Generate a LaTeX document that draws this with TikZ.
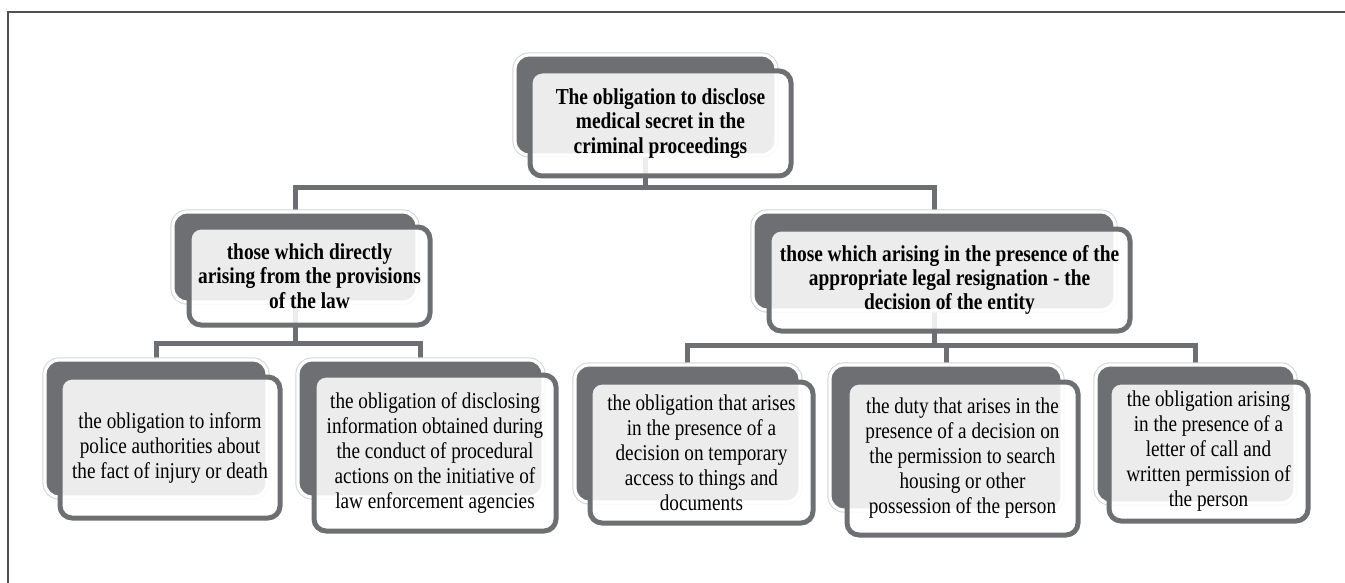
\documentclass[tikz,border=0pt]{standalone}
\usepackage{fontspec}
\setmainfont[FakeStretch=0.85]{Liberation Serif}
\usetikzlibrary{backgrounds}
\definecolor{boxgray}{RGB}{110,111,114}
\definecolor{halogray}{RGB}{212,212,212}
\definecolor{framegray}{RGB}{80,80,80}
\tikzset{
  backbox/.style={preaction={draw=halogray, line width=2.6pt}, fill=boxgray, draw=white, line width=1.6pt, rounded corners=7pt, inner sep=0pt},
  frontbox/.style={draw=boxgray, line width=2.5pt, fill=white, fill opacity=0.87, text opacity=1, rounded corners=6pt, align=center, inner sep=0pt, font=\fontsize{11.3}{12.5}\selectfont},
  headbox/.style={frontbox, font=\fontsize{11.4}{12.2}\selectfont\bfseries},
  link/.style={draw=boxgray, line width=2.5pt},
}

\begin{document}
\begin{tikzpicture}[x=0.5pt, y=-0.5pt]
  \useasboundingbox (0,0) rectangle (1345,583);
  \draw[framegray, line width=1pt] (8,583) -- (8,12) -- (1345,12);

  % top level
  \node[backbox, minimum width=130.5pt, minimum height=50pt] (tb) at (645.5,105) {};
  \node[headbox, minimum width=130.5pt, minimum height=52.5pt] (tf) at (660.5,123.5) {The obligation to disclose\\ medical secret in the\\ criminal proceedings};

  % second level
  \node[backbox, minimum width=122pt, minimum height=45pt] (lb) at (295,257) {};
  \node[headbox, minimum width=120.5pt, minimum height=49pt] (lf) at (309.5,276) {those which directly\\ arising from the provisions\\ of the law};
  \node[backbox, minimum width=181pt, minimum height=49pt] (rb) at (934,261) {};
  \node[headbox, minimum width=180.5pt, minimum height=51pt] (rf) at (949.5,280) {those which arising in the presence of the\\ appropriate legal resignation - the\\ decision of the entity};

  % third level
  \node[backbox, minimum width=111pt, minimum height=68.5pt] (c1b) at (156,428.5) {};
  \node[frontbox, minimum width=110pt, minimum height=70.5pt] (c1f) at (170,447.5) {the obligation to inform\\ police authorities about\\ the fact of injury or death};
  \node[backbox, minimum width=122.5pt, minimum height=68.5pt] (c2b) at (420.5,428.5) {};
  \node[frontbox, minimum width=121pt, minimum height=78pt] (c2f) at (435,453) {the obligation of disclosing\\ information obtained during\\ the conduct of procedural\\ actions on the initiative of\\ law enforcement agencies};
  \node[backbox, minimum width=112.5pt, minimum height=68.5pt] (c3b) at (687.5,433.5) {};
  \node[frontbox, minimum width=111.5pt, minimum height=70.5pt] (c3f) at (701.5,452.5) {the obligation that arises\\ in the presence of a\\ decision on temporary\\ access to things and\\ documents};
  \node[backbox, minimum width=116pt, minimum height=72.5pt] (c4b) at (946,437.5) {};
  \node[frontbox, minimum width=115.5pt, minimum height=76.5pt] (c4f) at (962.5,458.5) {the duty that arises in the\\ presence of a decision on\\ the permission to search\\ housing or other\\ possession of the person};
  \node[backbox, minimum width=99.5pt, minimum height=69pt] (c5b) at (1195.5,434) {};
  \node[frontbox, minimum width=99.5pt, minimum height=69.5pt] (c5f) at (1208.5,451.5) {the obligation arising\\ in the presence of a\\ letter of call and\\ written permission of\\ the person};

  \coordinate (j0) at (645,188);
  \coordinate (j1) at (295,343);
  \coordinate (j2) at (934,345);

  \begin{scope}[on background layer]
    \draw[link] (tb) -- (tb |- j0) -| (lb.north);
    \draw[link] (tb |- j0) -| (rb.north);
    \draw[link] (lb) -- (lb |- j1) -| (c1b.north);
    \draw[link] (lb |- j1) -| (c2b.north);
    \draw[link] (rb) -- (rb |- j2) -| (c3b.north);
    \draw[link] (rb |- j2) -| (c5b.north);
    \draw[link] (c4b |- j2) -- (c4b.north);
  \end{scope}
\end{tikzpicture}
\end{document}
